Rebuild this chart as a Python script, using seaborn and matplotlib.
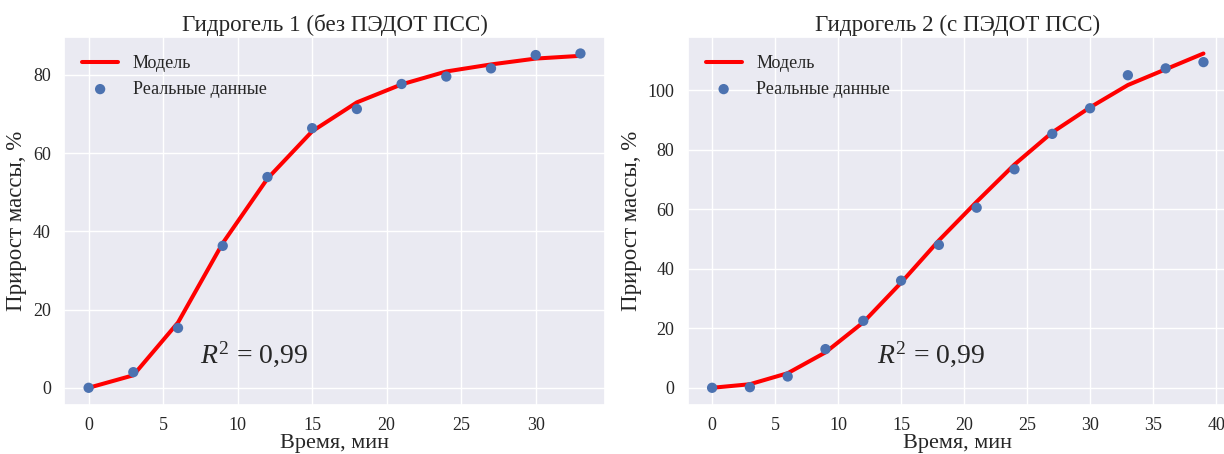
import matplotlib
matplotlib.use("Agg")
import matplotlib.pyplot as plt
import seaborn as sns
import pandas as pd

# Data
time1 = [0, 3, 6, 9, 12, 15, 18, 21, 24, 27, 30, 33]
real1 = [0, 4.0, 15.3, 36.3, 53.9, 66.4, 71.3, 77.7, 79.6, 81.7, 85.1, 85.5]
model1 = [0, 3.2, 16.7, 37.0, 53.5, 65.6, 73.0, 77.6, 80.9, 82.7, 84.2, 84.9]

time2 = [0, 3, 6, 9, 12, 15, 18, 21, 24, 27, 30, 33, 36, 39]
real2 = [0, 0.2, 3.8, 13.0, 22.5, 36.0, 48.0, 60.5, 73.4, 85.3, 93.9, 105.0, 107.3, 109.4]
model2 = [0, 1.2, 4.9, 11.9, 22.0, 35.3, 49.5, 62.5, 75.0, 85.8, 94.2, 101.7, 107.0, 112.3]

titles = ["Гидрогель 1 (без ПЭДОТ ПСС)", "Гидрогель 2 (с ПЭДОТ ПСС)"]
xlabel = "Время, мин"
ylabel = "Прирост массы, %"
label_model = "Модель"
label_real = "Реальные данные"
r2_text = r"$R^2$ = 0,99"
r2_pos = [(7.5, 6.5), (13.1, 8.6)]

sns.set_theme(style="darkgrid")
plt.rcParams["font.family"] = ["Liberation Serif", "DejaVu Serif"]
plt.rcParams["mathtext.fontset"] = "custom"
plt.rcParams["mathtext.rm"] = "Liberation Serif"
plt.rcParams["mathtext.it"] = "Liberation Serif:italic"
plt.rcParams["mathtext.bf"] = "Liberation Serif:bold"

fig = plt.figure(figsize=(12.24, 4.54), dpi=100)
ax1 = fig.add_axes([0.0523, 0.109, 0.442, 0.810])
ax2 = fig.add_axes([0.5617, 0.109, 0.4416, 0.810])

datasets = [(time1, real1, model1), (time2, real2, model2)]
for ax, (t, r, m), title, pos in zip([ax1, ax2], datasets, titles, r2_pos):
    df = pd.DataFrame({"t": t, "real": r, "model": m})
    sns.lineplot(data=df, x="t", y="model", ax=ax, color="red", linewidth=2.9, label=label_model)
    sns.scatterplot(data=df, x="t", y="real", ax=ax, color="#4C72B0", s=55,
                    edgecolor="none", label=label_real, zorder=3)
    ax.set_title(title, fontsize=16.6, pad=4)
    ax.set_xlabel(xlabel, fontsize=16, labelpad=0)
    ax.set_ylabel(ylabel, fontsize=16.5, labelpad=4)
    ax.tick_params(labelsize=13)
    ax.tick_params(axis="x", pad=3)
    ax.legend(loc="upper left", frameon=False, fontsize=13, borderaxespad=0.6)
    ax.text(pos[0], pos[1], r2_text, fontsize=20, ha="left", va="baseline")

ax2.set_xticks([0, 5, 10, 15, 20, 25, 30, 35, 40])

fig.savefig("out.png", dpi=100)
